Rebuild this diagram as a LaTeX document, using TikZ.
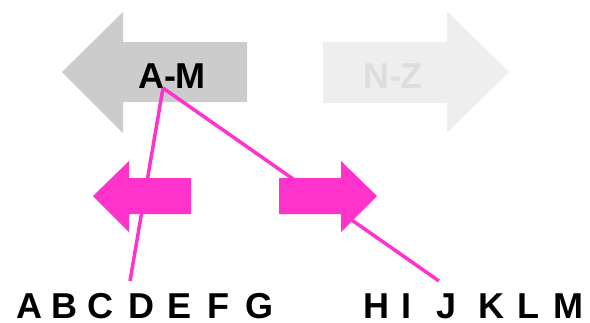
\documentclass[tikz,border=0pt]{standalone}
\usepackage{fontspec}
\setmainfont{Liberation Sans}
\definecolor{headgray}{HTML}{CCCCCC}
\definecolor{ghostgray}{HTML}{EEEEEE}
\definecolor{ghosttext}{HTML}{DDDDDD}
\definecolor{hotpink}{HTML}{FF33CC}
\begin{document}
\begin{tikzpicture}[x=1pt,y=-1pt,
  bigletter/.style={font=\fontsize{36}{36}\selectfont\bfseries, inner sep=0pt, text depth=0pt, anchor=base},
  link/.style={hotpink, line width=3.5pt}]
\useasboundingbox (0,0) rectangle (590,322);

% upper arrows: A-M points left, N-Z points right
\fill[headgray] (62,72) -- (123,12) -- (123,42) -- (247,42) -- (247,102) -- (123,102) -- (123,133) -- cycle;
\fill[ghostgray] (509,72) -- (447,11) -- (447,42) -- (323,42) -- (323,103) -- (447,103) -- (447,133) -- cycle;
\node[bigletter] (am) at (172,88) {A-M};
\node[bigletter, text=ghosttext] (nz) at (393,88) {N-Z};

% lower pink arrows
\fill[hotpink] (93,196) -- (129,161) -- (129,178) -- (191,178) -- (191,214) -- (129,214) -- (129,232) -- cycle;
\fill[hotpink] (377,196) -- (341,161) -- (341,178) -- (279,178) -- (279,214) -- (341,214) -- (341,232) -- cycle;

% alphabet row
\foreach \l/\x in {A/29,B/64,C/100,D/141,E/180,F/218,G/259,H/376,I/406,J/447,K/491,L/528,M/568}
  \node[bigletter] (\l) at (\x,318) {\l};

% connectors from the A-M label down to the row
\coordinate (apex) at (163,88);
\coordinate (leftend) at (130,281);
\coordinate (rightend) at (439,281);
\draw[link] (apex) -- (leftend);
\draw[link] (apex) -- (rightend);
\end{tikzpicture}
\end{document}
